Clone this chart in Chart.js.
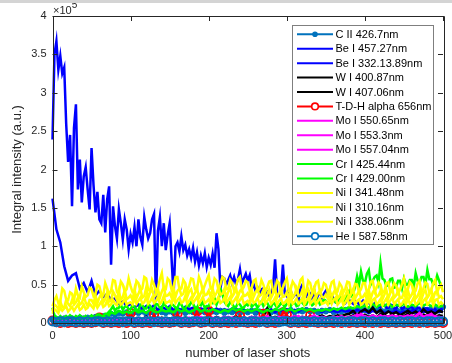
<!DOCTYPE html>
<html>
<head>
<meta charset="utf-8">
<title>Integral intensity vs laser shots</title>
<script src="https://cdn.jsdelivr.net/npm/chart.js@4.4.0/dist/chart.umd.min.js"></script>
<style>
html, body { margin: 0; padding: 0; background: #fff; }
#wrap { position: relative; width: 452px; height: 363px; }
#topbar { position: absolute; left: 0; top: 0; width: 452px; height: 3px; background: #d4d4d4; }
</style>
</head>
<body>
<div id="wrap">
	<canvas id="lineChart" width="452" height="363"></canvas>
	<div id="topbar"></div>
</div>
<script>
// intensities in units of 1e5 (a.u.), evenly spread over shots 0..500
// (101 values = every 5 shots, 201 values = every 2.5 shots)
const LAST_SHOT = 500;

const cII426 = [
	0.04, 0.05, 0.04, 0.06, 0.05, 0.06, 0.05, 0.07, 0.06, 0.07,
	0.06, 0.08, 0.07, 0.09, 0.08, 0.12, 0.11, 0.13, 0.12, 0.14,
	0.12, 0.14, 0.13, 0.15, 0.12, 0.14, 0.13, 0.15, 0.14, 0.13,
	0.15, 0.13, 0.14, 0.16, 0.13, 0.15, 0.14, 0.13, 0.15, 0.14,
	0.13, 0.15, 0.14, 0.16, 0.13, 0.15, 0.14, 0.16, 0.13, 0.15,
	0.14, 0.16, 0.13, 0.15, 0.14, 0.16, 0.14, 0.15, 0.13, 0.16,
	0.15, 0.17, 0.14, 0.16, 0.15, 0.17, 0.15, 0.16, 0.14, 0.16,
	0.15, 0.17, 0.14, 0.16, 0.15, 0.17, 0.16, 0.15, 0.17, 0.16,
	0.17, 0.15, 0.18, 0.16, 0.17, 0.15, 0.18, 0.16, 0.17, 0.15,
	0.18, 0.16, 0.17, 0.19, 0.16, 0.18, 0.17, 0.19, 0.18, 0.20,
	0.21
];

const beI457 = [
	2.39, 3.50, 3.67, 3.30, 3.48, 3.25, 3.33, 2.60, 2.10, 2.45, 1.52, 2.54, 2.85, 1.74, 2.13, 1.57, 1.91, 2.03, 1.74, 1.48,
	2.28, 1.80, 1.44, 1.71, 1.35, 1.30, 1.67, 1.18, 1.61, 1.78, 0.76, 1.52, 1.26, 1.10, 1.48, 1.30, 1.09, 1.35, 1.22, 0.96,
	1.16, 1.05, 1.25, 1.00, 1.35, 1.12, 1.02, 1.38, 1.22, 1.10, 1.17, 1.35, 1.42, 0.28, 1.20, 1.38, 1.00, 1.30, 0.95, 1.15,
	1.30, 0.83, 0.36, 1.00, 1.05, 0.93, 1.13, 0.95, 1.02, 0.88, 0.96, 0.85, 0.98, 0.80, 0.92, 0.75, 0.88, 0.78, 0.91, 0.73,
	0.85, 0.76, 0.90, 0.72, 1.17, 0.96, 0.45, 0.60, 0.58, 0.50, 0.56, 0.62, 0.52, 0.60, 0.50, 0.57, 0.70, 0.52, 0.58, 0.64,
	0.55, 0.62, 0.45, 0.50, 0.42, 0.46, 0.38, 0.44, 0.45, 0.36, 0.40, 0.34, 0.38, 0.48, 0.83, 0.40, 0.36, 0.42, 0.76, 0.38,
	0.35, 0.44, 0.42, 0.33, 0.36, 0.40, 0.30, 0.45, 0.50, 0.38, 0.35, 0.42, 0.38, 0.32, 0.43, 0.30, 0.36, 0.41, 0.33, 0.38,
	0.42, 0.35, 0.30, 0.36, 0.32, 0.27, 0.28, 0.33, 0.33, 0.28, 0.26, 0.31, 0.30, 0.27, 0.25, 0.29, 0.28, 0.24, 0.26, 0.29,
	0.24, 0.28, 0.27, 0.22, 0.22, 0.26, 0.25, 0.21, 0.21, 0.25, 0.24, 0.20, 0.20, 0.24, 0.23, 0.19, 0.19, 0.23, 0.22, 0.18,
	0.20, 0.22, 0.18, 0.21, 0.21, 0.17, 0.17, 0.20, 0.20, 0.16, 0.16, 0.19, 0.19, 0.17, 0.17, 0.18, 0.18, 0.15, 0.16, 0.18,
	0.17
];

const beI332 = [
	1.62, 1.22, 1.05, 0.74, 0.55, 0.62, 0.65, 0.45, 0.52, 0.40,
	0.55, 0.36, 0.42, 0.34, 0.38, 0.30, 0.32, 0.25, 0.28, 0.22,
	0.25, 0.20, 0.24, 0.18, 0.22, 0.19, 0.23, 0.17, 0.21, 0.18,
	0.22, 0.17, 0.20, 0.16, 0.21, 0.18, 0.20, 0.16, 0.19, 0.17,
	0.21, 0.16, 0.19, 0.15, 0.18, 0.16, 0.19, 0.15, 0.18, 0.16,
	0.17, 0.15, 0.18, 0.14, 0.17, 0.15, 0.18, 0.14, 0.17, 0.15,
	0.18, 0.14, 0.17, 0.15, 0.19, 0.16, 0.18, 0.15, 0.17, 0.14,
	0.18, 0.15, 0.16, 0.14, 0.17, 0.15, 0.16, 0.14, 0.17, 0.15,
	0.16, 0.13, 0.16, 0.14, 0.17, 0.13, 0.15, 0.14, 0.16, 0.13,
	0.15, 0.14, 0.16, 0.13, 0.15, 0.14, 0.16, 0.13, 0.15, 0.14,
	0.16
];

const wI400 = [
	0.03, 0.05, 0.02, 0.06, 0.04, 0.03, 0.07, 0.04, 0.05, 0.03,
	0.06, 0.04, 0.05, 0.03, 0.07, 0.05, 0.04, 0.06, 0.03, 0.05,
	0.07, 0.04, 0.06, 0.05, 0.08, 0.04, 0.06, 0.05, 0.07, 0.04,
	0.06, 0.05, 0.08, 0.04, 0.07, 0.06, 0.05, 0.08, 0.05, 0.06,
	0.07, 0.05, 0.08, 0.06, 0.05, 0.07, 0.06, 0.09, 0.05, 0.07,
	0.06, 0.08, 0.05, 0.07, 0.09, 0.19, 0.06, 0.08, 0.07, 0.05,
	0.08, 0.06, 0.09, 0.07, 0.08, 0.06, 0.09, 0.07, 0.08, 0.10,
	0.07, 0.09, 0.08, 0.10, 0.09, 0.11, 0.12, 0.16, 0.10, 0.15,
	0.18, 0.14, 0.20, 0.13, 0.17, 0.11, 0.15, 0.12, 0.14, 0.10,
	0.13, 0.16, 0.12, 0.15, 0.11, 0.18, 0.13, 0.15, 0.12, 0.16,
	0.14
];

const wI407 = [
	0.02, 0.03, 0.01, 0.04, 0.02, 0.03, 0.02, 0.04, 0.03, 0.02,
	0.04, 0.02, 0.03, 0.05, 0.02, 0.04, 0.03, 0.02, 0.05, 0.03,
	0.04, 0.03, 0.05, 0.02, 0.04, 0.06, 0.03, 0.05, 0.04, 0.03,
	0.05, 0.03, 0.04, 0.06, 0.03, 0.05, 0.04, 0.06, 0.03, 0.05,
	0.04, 0.06, 0.03, 0.05, 0.07, 0.04, 0.05, 0.03, 0.06, 0.04,
	0.05, 0.07, 0.04, 0.06, 0.05, 0.08, 0.04, 0.06, 0.05, 0.07,
	0.05, 0.08, 0.06, 0.04, 0.07, 0.05, 0.08, 0.06, 0.05, 0.07,
	0.06, 0.08, 0.05, 0.07, 0.09, 0.06, 0.08, 0.10, 0.07, 0.09,
	0.11, 0.08, 0.10, 0.07, 0.12, 0.09, 0.08, 0.11, 0.07, 0.10,
	0.09, 0.12, 0.08, 0.10, 0.07, 0.11, 0.09, 0.13, 0.08, 0.10,
	0.09
];

const tdhAlpha656 = [
	0.03, 0.01, 0.00, 0.01, 0.00, 0.01, 0.00, 0.01, 0.00, 0.01,
	0.00, 0.01, 0.07, 0.00, 0.01, 0.00, 0.01, 0.00, 0.01, 0.00,
	0.13, 0.00, 0.01, 0.00, 0.01, 0.00, 0.11, 0.01, 0.00, 0.01,
	0.00, 0.01, 0.12, 0.00, 0.01, 0.00, 0.01, 0.15, 0.00, 0.01,
	0.16, 0.00, 0.01, 0.00, 0.01, 0.00, 0.01, 0.00, 0.10, 0.01,
	0.00, 0.01, 0.00, 0.01, 0.12, 0.00, 0.01, 0.00, 0.01, 0.14,
	0.11, 0.00, 0.01, 0.00, 0.01, 0.00, 0.10, 0.01, 0.00, 0.01,
	0.00, 0.01, 0.00, 0.01, 0.00, 0.01, 0.00, 0.01, 0.00, 0.01,
	0.00, 0.01, 0.00, 0.01, 0.00, 0.01, 0.00, 0.01, 0.00, 0.01,
	0.00, 0.01, 0.00, 0.01, 0.00, 0.01, 0.00, 0.01, 0.00, 0.01,
	0.00
];

const moI550 = [
	0.03, 0.02, 0.04, 0.03, 0.05, 0.02, 0.04, 0.03, 0.02, 0.04,
	0.03, 0.05, 0.02, 0.04, 0.03, 0.06, 0.04, 0.03, 0.05, 0.04,
	0.06, 0.03, 0.05, 0.04, 0.07, 0.03, 0.05, 0.04, 0.06, 0.05,
	0.04, 0.06, 0.05, 0.07, 0.04, 0.06, 0.05, 0.08, 0.04, 0.06,
	0.05, 0.07, 0.04, 0.06, 0.05, 0.08, 0.05, 0.06, 0.04, 0.07,
	0.05, 0.06, 0.08, 0.05, 0.07, 0.04, 0.06, 0.05, 0.08, 0.06,
	0.07, 0.05, 0.06, 0.09, 0.05, 0.07, 0.06, 0.05, 0.08, 0.06,
	0.05, 0.07, 0.06, 0.08, 0.05, 0.07, 0.06, 0.09, 0.07, 0.12,
	0.08, 0.06, 0.09, 0.07, 0.10, 0.06, 0.08, 0.07, 0.09, 0.06,
	0.08, 0.07, 0.10, 0.06, 0.08, 0.07, 0.09, 0.12, 0.07, 0.08,
	0.06
];

const moI553 = [
	0.01, 0.02, 0.01, 0.03, 0.02, 0.01, 0.03, 0.02, 0.01, 0.02,
	0.03, 0.02, 0.01, 0.03, 0.02, 0.04, 0.02, 0.03, 0.02, 0.04,
	0.03, 0.02, 0.04, 0.03, 0.02, 0.04, 0.03, 0.05, 0.02, 0.04,
	0.03, 0.05, 0.03, 0.04, 0.02, 0.05, 0.03, 0.04, 0.03, 0.05,
	0.04, 0.03, 0.05, 0.03, 0.04, 0.06, 0.03, 0.05, 0.04, 0.03,
	0.05, 0.04, 0.06, 0.03, 0.05, 0.04, 0.06, 0.04, 0.05, 0.03,
	0.06, 0.04, 0.05, 0.07, 0.04, 0.05, 0.04, 0.06, 0.05, 0.04,
	0.06, 0.05, 0.07, 0.04, 0.06, 0.05, 0.07, 0.05, 0.06, 0.08,
	0.06, 0.05, 0.07, 0.06, 0.08, 0.05, 0.07, 0.06, 0.05, 0.07,
	0.06, 0.08, 0.05, 0.07, 0.06, 0.08, 0.06, 0.07, 0.05, 0.06,
	0.05
];

const moI557 = [
	0.02, 0.03, 0.02, 0.04, 0.03, 0.02, 0.04, 0.03, 0.05, 0.03,
	0.04, 0.03, 0.05, 0.03, 0.04, 0.06, 0.04, 0.05, 0.03, 0.05,
	0.04, 0.06, 0.04, 0.05, 0.07, 0.04, 0.06, 0.05, 0.04, 0.06,
	0.05, 0.07, 0.04, 0.06, 0.05, 0.07, 0.05, 0.06, 0.08, 0.05,
	0.06, 0.05, 0.07, 0.06, 0.08, 0.05, 0.07, 0.06, 0.05, 0.07,
	0.06, 0.08, 0.05, 0.07, 0.06, 0.09, 0.06, 0.07, 0.05, 0.08,
	0.06, 0.07, 0.09, 0.06, 0.08, 0.06, 0.07, 0.10, 0.06, 0.08,
	0.07, 0.06, 0.08, 0.07, 0.09, 0.06, 0.08, 0.07, 0.11, 0.08,
	0.09, 0.07, 0.10, 0.08, 0.07, 0.09, 0.08, 0.10, 0.07, 0.09,
	0.08, 0.10, 0.07, 0.09, 0.13, 0.08, 0.10, 0.08, 0.09, 0.07,
	0.08
];

const crI425 = [
	0.20, 0.10, 0.08, 0.06, 0.09, 0.07, 0.06, 0.09, 0.07, 0.10, 0.08, 0.06, 0.09, 0.07, 0.10, 0.08, 0.06, 0.09, 0.07, 0.08,
	0.10, 0.08, 0.08, 0.11, 0.11, 0.09, 0.09, 0.12, 0.12, 0.15, 0.18, 0.22, 0.16, 0.19, 0.20, 0.24, 0.17, 0.21, 0.22, 0.18,
	0.18, 0.23, 0.21, 0.17, 0.17, 0.24, 0.23, 0.19, 0.19, 0.25, 0.22, 0.18, 0.18, 0.25, 0.24, 0.20, 0.20, 0.26, 0.22, 0.19,
	0.19, 0.25, 0.23, 0.20, 0.20, 0.26, 0.24, 0.19, 0.19, 0.24, 0.22, 0.27, 0.25, 0.20, 0.20, 0.25, 0.23, 0.28, 0.19, 0.22,
	0.22, 0.28, 0.26, 0.32, 0.24, 0.30, 0.45, 0.38, 0.28, 0.24, 0.22, 0.27, 0.25, 0.21, 0.21, 0.26, 0.24, 0.20, 0.20, 0.25,
	0.23, 0.27, 0.21, 0.24, 0.25, 0.20, 0.24, 0.28, 0.22, 0.26, 0.26, 0.21, 0.21, 0.27, 0.24, 0.20, 0.22, 0.26, 0.24, 0.21,
	0.25, 0.28, 0.22, 0.25, 0.27, 0.22, 0.23, 0.29, 0.26, 0.23, 0.24, 0.30, 0.28, 0.23, 0.25, 0.31, 0.30, 0.24, 0.26, 0.31,
	0.29, 0.25, 0.26, 0.32, 0.31, 0.27, 0.28, 0.34, 0.32, 0.28, 0.30, 0.38, 0.42, 0.35, 0.38, 0.48, 0.61, 0.50, 0.67, 0.55,
	0.52, 0.64, 0.69, 0.50, 0.55, 0.60, 0.62, 0.52, 0.78, 0.58, 0.56, 0.48, 0.50, 0.57, 0.58, 0.46, 0.47, 0.55, 0.55, 0.45,
	0.58, 0.50, 0.50, 0.56, 0.56, 0.47, 0.65, 0.55, 0.52, 0.60, 0.60, 0.50, 0.69, 0.57, 0.57, 0.50, 0.52, 0.62, 0.55, 0.48,
	0.48
];

const crI429 = [
	0.06, 0.05, 0.07, 0.05, 0.06, 0.08, 0.06, 0.05, 0.07, 0.06,
	0.08, 0.06, 0.07, 0.09, 0.07, 0.14, 0.12, 0.16, 0.13, 0.15,
	0.13, 0.17, 0.14, 0.16, 0.13, 0.18, 0.15, 0.14, 0.17, 0.15,
	0.16, 0.14, 0.18, 0.15, 0.17, 0.14, 0.16, 0.19, 0.15, 0.17,
	0.15, 0.18, 0.16, 0.14, 0.17, 0.15, 0.19, 0.16, 0.18, 0.15,
	0.17, 0.15, 0.18, 0.16, 0.14, 0.17, 0.15, 0.18, 0.16, 0.19,
	0.16, 0.18, 0.15, 0.17, 0.19, 0.16, 0.18, 0.15, 0.17, 0.16,
	0.18, 0.16, 0.19, 0.17, 0.20, 0.18, 0.21, 0.19, 0.22, 0.20,
	0.23, 0.20, 0.25, 0.21, 0.24, 0.22, 0.26, 0.21, 0.24, 0.22,
	0.25, 0.21, 0.24, 0.22, 0.26, 0.23, 0.25, 0.22, 0.24, 0.21,
	0.23
];

const niI341 = [
	0.22, 0.30, 0.35, 0.26, 0.28, 0.45, 0.42, 0.31, 0.30, 0.40, 0.38, 0.29, 0.45, 0.36, 0.33, 0.48, 0.40, 0.34, 0.36, 0.46,
	0.44, 0.35, 0.38, 0.50, 0.48, 0.37, 0.36, 0.52, 0.45, 0.38, 0.42, 0.56, 0.55, 0.40, 0.40, 0.54, 0.50, 0.41, 0.44, 0.58,
	0.48, 0.40, 0.40, 0.55, 0.52, 0.42, 0.45, 0.60, 0.58, 0.43, 0.42, 0.56, 0.50, 0.41, 0.46, 0.57, 0.65, 0.44, 0.44, 0.58,
	0.55, 0.43, 0.47, 0.60, 0.60, 0.44, 0.45, 0.56, 0.52, 0.42, 0.48, 0.58, 0.57, 0.44, 0.44, 0.60, 0.53, 0.42, 0.49, 0.56,
	0.62, 0.45, 0.46, 0.58, 0.55, 0.43, 0.50, 0.60, 0.58, 0.44, 0.45, 0.56, 0.52, 0.42, 0.48, 0.57, 0.60, 0.43, 0.47, 0.55,
	0.53, 0.42, 0.46, 0.55, 0.57, 0.42, 0.44, 0.56, 0.50, 0.41, 0.47, 0.54, 0.55, 0.41, 0.43, 0.55, 0.52, 0.40, 0.46, 0.53,
	0.58, 0.42, 0.44, 0.54, 0.50, 0.41, 0.46, 0.56, 0.59, 0.40, 0.42, 0.55, 0.52, 0.40, 0.45, 0.53, 0.55, 0.40, 0.43, 0.52,
	0.50, 0.40, 0.44, 0.53, 0.55, 0.39, 0.41, 0.52, 0.48, 0.40, 0.45, 0.54, 0.53, 0.39, 0.42, 0.51, 0.50, 0.40, 0.44, 0.52,
	0.52, 0.40, 0.43, 0.54, 0.55, 0.41, 0.46, 0.53, 0.50, 0.39, 0.42, 0.52, 0.53, 0.40, 0.45, 0.52, 0.49, 0.39, 0.43, 0.51,
	0.58, 0.41, 0.44, 0.53, 0.50, 0.39, 0.42, 0.52, 0.55, 0.40, 0.45, 0.53, 0.51, 0.39, 0.43, 0.52, 0.56, 0.40, 0.46, 0.50,
	0.40
];

const niI310 = [
	0.15, 0.24, 0.22, 0.18, 0.28, 0.21, 0.20, 0.30, 0.25, 0.22, 0.30, 0.24, 0.27, 0.33, 0.24, 0.26, 0.34, 0.27, 0.22, 0.30,
	0.30, 0.25, 0.36, 0.26, 0.33, 0.38, 0.27, 0.31, 0.40, 0.28, 0.29, 0.41, 0.36, 0.30, 0.42, 0.30, 0.34, 0.43, 0.31, 0.33,
	0.36, 0.30, 0.44, 0.32, 0.38, 0.45, 0.33, 0.35, 0.46, 0.32, 0.40, 0.44, 0.34, 0.37, 0.45, 0.33, 0.41, 0.47, 0.35, 0.36,
	0.39, 0.33, 0.46, 0.34, 0.42, 0.45, 0.36, 0.38, 0.47, 0.34, 0.41, 0.44, 0.34, 0.39, 0.46, 0.33, 0.39, 0.45, 0.36, 0.37,
	0.42, 0.34, 0.45, 0.35, 0.39, 0.46, 0.37, 0.38, 0.44, 0.33, 0.41, 0.45, 0.34, 0.38, 0.46, 0.34, 0.42, 0.44, 0.35, 0.36,
	0.39, 0.33, 0.44, 0.34, 0.40, 0.45, 0.35, 0.37, 0.43, 0.32, 0.37, 0.44, 0.33, 0.38, 0.45, 0.33, 0.39, 0.43, 0.34, 0.35,
	0.40, 0.32, 0.44, 0.33, 0.37, 0.45, 0.35, 0.36, 0.43, 0.31, 0.41, 0.44, 0.32, 0.37, 0.45, 0.33, 0.39, 0.42, 0.34, 0.33,
	0.37, 0.32, 0.43, 0.33, 0.40, 0.44, 0.32, 0.35, 0.42, 0.31, 0.36, 0.43, 0.33, 0.38, 0.44, 0.32, 0.37, 0.42, 0.33, 0.34,
	0.38, 0.31, 0.43, 0.32, 0.40, 0.44, 0.34, 0.36, 0.42, 0.31, 0.37, 0.43, 0.32, 0.39, 0.45, 0.33, 0.36, 0.42, 0.32, 0.33,
	0.40, 0.32, 0.43, 0.33, 0.37, 0.44, 0.32, 0.35, 0.42, 0.31, 0.39, 0.43, 0.33, 0.37, 0.44, 0.32, 0.40, 0.42, 0.33, 0.35,
	0.31
];

const niI338 = [
	0.12, 0.18, 0.16, 0.13, 0.20, 0.16, 0.19, 0.22, 0.15, 0.18, 0.21, 0.16, 0.20, 0.24, 0.17, 0.19, 0.24, 0.18, 0.20, 0.25,
	0.22, 0.19, 0.27, 0.20, 0.24, 0.28, 0.21, 0.23, 0.29, 0.22, 0.24, 0.30, 0.25, 0.23, 0.31, 0.24, 0.26, 0.32, 0.24, 0.26,
	0.27, 0.24, 0.32, 0.25, 0.29, 0.33, 0.25, 0.27, 0.34, 0.25, 0.28, 0.33, 0.26, 0.29, 0.34, 0.25, 0.28, 0.35, 0.26, 0.27,
	0.29, 0.25, 0.34, 0.26, 0.30, 0.33, 0.26, 0.28, 0.35, 0.25, 0.29, 0.33, 0.26, 0.30, 0.34, 0.25, 0.29, 0.34, 0.26, 0.28,
	0.31, 0.25, 0.33, 0.26, 0.29, 0.34, 0.26, 0.28, 0.33, 0.25, 0.30, 0.34, 0.25, 0.29, 0.33, 0.26, 0.30, 0.34, 0.25, 0.27,
	0.29, 0.25, 0.33, 0.26, 0.28, 0.33, 0.25, 0.27, 0.34, 0.25, 0.29, 0.33, 0.25, 0.28, 0.33, 0.24, 0.29, 0.32, 0.25, 0.27,
	0.30, 0.24, 0.33, 0.25, 0.28, 0.32, 0.25, 0.27, 0.33, 0.24, 0.29, 0.33, 0.25, 0.28, 0.32, 0.24, 0.29, 0.32, 0.25, 0.26,
	0.28, 0.24, 0.32, 0.25, 0.30, 0.33, 0.24, 0.27, 0.32, 0.23, 0.27, 0.32, 0.24, 0.28, 0.33, 0.24, 0.29, 0.31, 0.24, 0.26,
	0.29, 0.23, 0.32, 0.24, 0.30, 0.32, 0.24, 0.27, 0.31, 0.23, 0.28, 0.32, 0.24, 0.29, 0.33, 0.24, 0.28, 0.31, 0.23, 0.25,
	0.30, 0.24, 0.32, 0.25, 0.28, 0.33, 0.24, 0.26, 0.32, 0.23, 0.29, 0.32, 0.24, 0.27, 0.33, 0.23, 0.30, 0.31, 0.24, 0.27,
	0.24
];

const heI587 = [
	0.02, 0.01, 0.02, 0.01, 0.02, 0.02, 0.01, 0.02, 0.01, 0.02,
	0.01, 0.02, 0.02, 0.01, 0.02, 0.01, 0.02, 0.02, 0.01, 0.02,
	0.02, 0.01, 0.02, 0.01, 0.02, 0.02, 0.01, 0.02, 0.01, 0.02,
	0.01, 0.02, 0.02, 0.01, 0.02, 0.01, 0.02, 0.02, 0.01, 0.02,
	0.02, 0.01, 0.02, 0.01, 0.02, 0.02, 0.01, 0.02, 0.01, 0.02,
	0.01, 0.02, 0.02, 0.01, 0.02, 0.01, 0.02, 0.02, 0.01, 0.02,
	0.02, 0.01, 0.02, 0.01, 0.02, 0.02, 0.01, 0.02, 0.01, 0.02,
	0.01, 0.02, 0.02, 0.01, 0.02, 0.01, 0.02, 0.02, 0.01, 0.02,
	0.02, 0.01, 0.02, 0.01, 0.02, 0.02, 0.01, 0.02, 0.01, 0.02,
	0.01, 0.02, 0.02, 0.01, 0.02, 0.01, 0.02, 0.02, 0.01, 0.02,
	0.02
];

const xTicks = [0, 100, 200, 300, 400, 500];
const yTicks = [0, 0.5, 1, 1.5, 2, 2.5, 3, 3.5, 4];

// label, values, colour, marker ('dot' filled, 'ring' hollow, null none)
const series = [
	["C II 426.7nm", cII426, "#0072BD", "dot"],
	["Be I 457.27nm", beI457, "#0000FF", null],
	["Be I 332.13.89nm", beI332, "#0000FF", null],
	["W I 400.87nm", wI400, "#000000", null],
	["W I 407.06nm", wI407, "#000000", null],
	["T-D-H alpha 656nm", tdhAlpha656, "#FF0000", "ring"],
	["Mo I 550.65nm", moI550, "#FF00FF", null],
	["Mo I 553.3nm", moI553, "#FF00FF", null],
	["Mo I 557.04nm", moI557, "#FF00FF", null],
	["Cr I 425.44nm", crI425, "#00FF00", null],
	["Cr I 429.00nm", crI429, "#00FF00", null],
	["Ni I 341.48nm", niI341, "#FFFF00", null],
	["Ni I 310.16nm", niI310, "#FFFF00", null],
	["Ni I 338.06nm", niI338, "#FFFF00", null],
	["He I 587.58nm", heI587, "#0072BD", "ring"]
];

const FONT = "'Liberation Sans', Arial, Helvetica, sans-serif";
const AXIS_COLOR = "#262626";

Chart.defaults.font.family = FONT;
Chart.defaults.color = AXIS_COLOR;

const datasets = series.map(function(s, i) {
	const values = s[1];
	const marker = s[3];
	const step = LAST_SHOT / (values.length - 1);
	return {
		label: s[0],
		data: values.map((v, k) => ({ x: k * step, y: v })),
		borderColor: s[2],
		backgroundColor: s[2],
		borderWidth: 2.5,
		pointStyle: 'circle',
		pointRadius: marker === 'dot' ? 2.6 : (marker === 'ring' ? 4.2 : 0),
		pointBorderWidth: marker === 'ring' ? 1.8 : 1,
		pointBorderColor: s[2],
		pointBackgroundColor: marker === 'dot' ? s[2] : 'rgba(0,0,0,0)',
		marker: marker,
		// later series sit on top, like the plot order
		order: series.length - i,
		clip: 8,
		tension: 0
	};
});

// box, inward ticks on all four sides and the x10^5 multiplier
const axesBox = {
	id: 'axesBox',
	afterDatasetsDraw(chart) {
		const ctx = chart.ctx;
		const a = chart.chartArea;
		const xs = chart.scales.x, ys = chart.scales.y;
		ctx.save();
		ctx.strokeStyle = AXIS_COLOR;
		ctx.lineWidth = 1;
		ctx.beginPath();
		ctx.rect(Math.round(a.left) + 0.5, Math.round(a.top) + 0.5,
			Math.round(a.right - a.left), Math.round(a.bottom - a.top));
		xTicks.forEach(function(t) {
			const px = Math.round(xs.getPixelForValue(t)) + 0.5;
			ctx.moveTo(px, a.bottom); ctx.lineTo(px, a.bottom - 5);
			ctx.moveTo(px, a.top); ctx.lineTo(px, a.top + 5);
		});
		yTicks.forEach(function(t) {
			const py = Math.round(ys.getPixelForValue(t)) + 0.5;
			ctx.moveTo(a.left, py); ctx.lineTo(a.left + 5, py);
			ctx.moveTo(a.right, py); ctx.lineTo(a.right - 5, py);
		});
		ctx.stroke();

		ctx.fillStyle = AXIS_COLOR;
		ctx.textBaseline = 'alphabetic';
		ctx.textAlign = 'left';
		ctx.font = "11px " + FONT;
		ctx.fillText("\u00d710", a.left + 0.5, a.top - 2.5);
		const w = ctx.measureText("\u00d710").width;
		ctx.font = "10px " + FONT;
		ctx.fillText("5", a.left + 0.5 + w, a.top - 8.5);
		ctx.restore();
	}
};

// boxed legend in the upper right of the plot
const legendBox = {
	id: 'legendBox',
	afterDraw(chart) {
		const ctx = chart.ctx;
		const x0 = 292.5, y0 = 25.5, w = 141, h = 219, rowH = 14.42;
		ctx.save();
		ctx.fillStyle = '#ffffff';
		ctx.fillRect(x0, y0, w, h);
		ctx.strokeStyle = '#7f7f7f';
		ctx.lineWidth = 1;
		ctx.strokeRect(x0, y0, w, h);
		ctx.font = "11px " + FONT;
		ctx.textBaseline = 'middle';
		ctx.textAlign = 'left';
		chart.data.datasets.forEach(function(ds, i) {
			const y = 34.3 + i * rowH;
			ctx.strokeStyle = ds.borderColor;
			ctx.lineWidth = 2;
			ctx.beginPath();
			ctx.moveTo(297, y);
			ctx.lineTo(333, y);
			ctx.stroke();
			if (ds.marker) {
				ctx.beginPath();
				ctx.arc(315, y, ds.marker === 'dot' ? 2.8 : 3.3, 0, Math.PI * 2);
				if (ds.marker === 'dot') {
					ctx.fillStyle = ds.borderColor;
					ctx.fill();
				} else {
					ctx.fillStyle = '#ffffff';
					ctx.fill();
					ctx.lineWidth = 1.6;
					ctx.stroke();
				}
			}
			ctx.fillStyle = '#000000';
			ctx.fillText(ds.label, 335.5, y + 0.5);
		});
		ctx.restore();
	}
};

let lineChart = new Chart(document.getElementById("lineChart"), {
	type: 'line',
	data: { datasets: datasets },
	options: {
		responsive: false,
		animation: false,
		devicePixelRatio: 1,
		layout: { padding: { top: 16, right: 9, left: 0, bottom: 0 } },
		plugins: {
			legend: { display: false },
			tooltip: { enabled: false }
		},
		scales: {
			x: {
				type: 'linear',
				min: 0,
				max: 500,
				grid: { display: false, drawTicks: false },
				border: { display: false },
				afterBuildTicks: (s) => { s.ticks = xTicks.map(v => ({ value: v })); },
				afterFit: (s) => { s.height = 40; s.paddingLeft = 0; s.paddingRight = 0; },
				ticks: { font: { size: 11 }, padding: 6, maxRotation: 0, color: AXIS_COLOR },
				title: {
					display: true,
					text: 'number of laser shots',
					font: { size: 13 },
					color: AXIS_COLOR,
					padding: { top: 0, bottom: 2 }
				}
			},
			y: {
				min: 0,
				max: 4,
				grid: { display: false, drawTicks: false },
				border: { display: false },
				afterBuildTicks: (s) => { s.ticks = yTicks.map(v => ({ value: v })); },
				afterFit: (s) => { s.width = 52.5; s.paddingTop = 0; s.paddingBottom = 0; },
				ticks: {
					font: { size: 11 },
					padding: 6,
					color: AXIS_COLOR,
					callback: (v) => String(v)
				},
				title: {
					display: true,
					text: 'Integral intensity (a.u.)',
					font: { size: 13 },
					color: AXIS_COLOR,
					padding: { top: 10, bottom: 0 }
				}
			}
		}
	},
	plugins: [axesBox, legendBox]
});
</script>
</body>
</html>
